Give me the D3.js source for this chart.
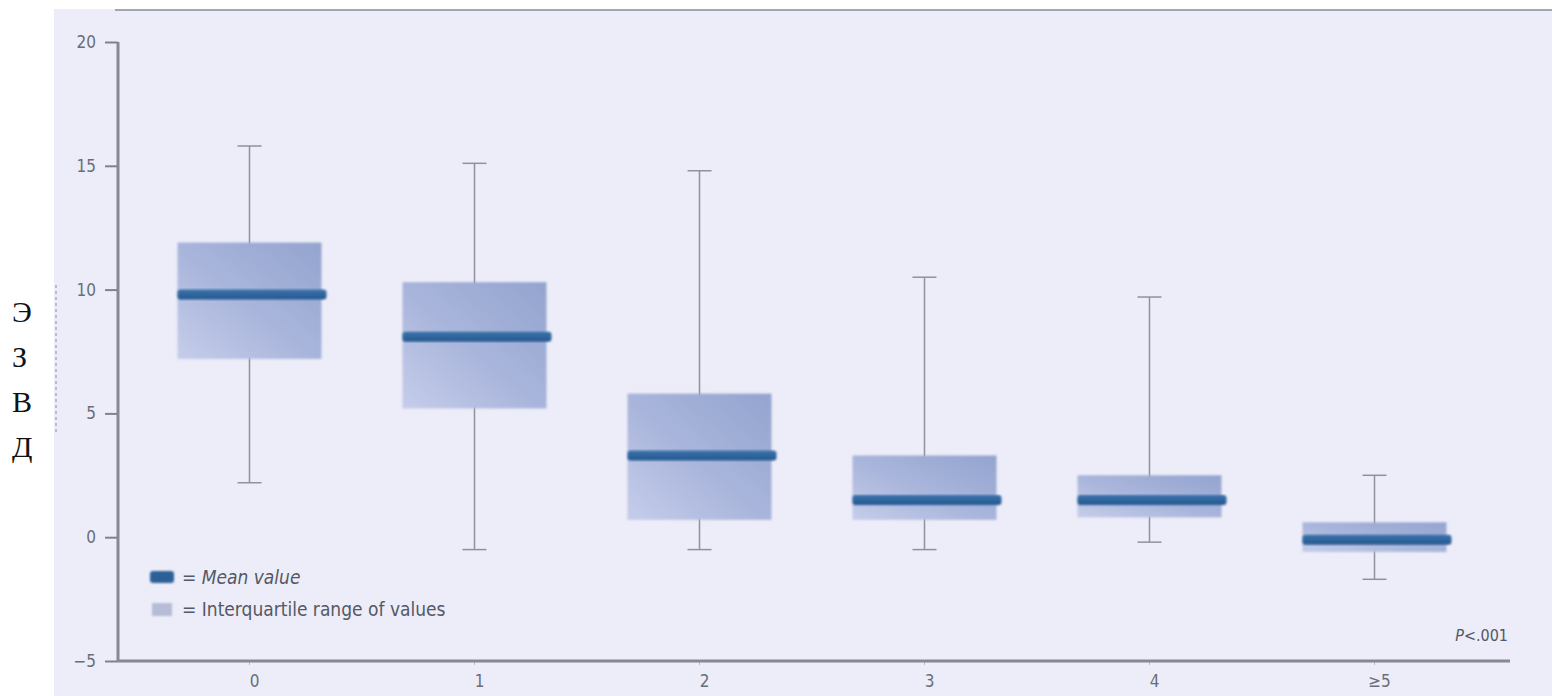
<!DOCTYPE html>
<html>
<head>
<meta charset="utf-8">
<script src="https://cdn.jsdelivr.net/npm/d3@7"></script>
<style>
  body { margin: 0; background: #fff; }
  .tick text { font-family: "Liberation Sans Narrow", "DejaVu Sans Condensed", sans-serif; fill: #6a6d78; }
</style>
</head>
<body>
<svg id="chart"></svg>
<script>

// categories and values
var categories = ["0", "1", "2", "3", "4", "\u22655"];
var whiskerTop = [15.8, 15.1, 14.8, 10.5, 9.7, 2.5];
var q3 = [11.9, 10.3, 5.8, 3.3, 2.5, 0.6];
var meanValue = [9.8, 8.1, 3.3, 1.5, 1.5, -0.1];
var q1 = [7.2, 5.2, 0.7, 0.7, 0.8, -0.6];
var whiskerBottom = [2.2, -0.5, -0.5, -0.5, -0.2, -1.7];
var yTicks = [-5, 0, 5, 10, 15, 20];
var sideLetters = ["\u042d", "\u0417", "\u0412", "\u0414"];

var W = 1552, H = 696;

var svg = d3.select("#chart")
    .attr("width", W)
    .attr("height", H);

// panel background
svg.append("rect")
    .attr("x", 54).attr("y", 9)
    .attr("width", W - 54).attr("height", H - 9)
    .attr("fill", "#ecedf8");

svg.append("line")
    .attr("x1", 115).attr("x2", W)
    .attr("y1", 10).attr("y2", 10)
    .attr("stroke", "#a3a5b0").attr("stroke-width", 2);

// gradients
var defs = svg.append("defs");
var g1 = defs.append("linearGradient").attr("id", "boxGrad")
    .attr("x1", "100%").attr("y1", "0%").attr("x2", "0%").attr("y2", "100%");
g1.append("stop").attr("offset", "0%").attr("stop-color", "#93a4cf");
g1.append("stop").attr("offset", "55%").attr("stop-color", "#aab6dc");
g1.append("stop").attr("offset", "100%").attr("stop-color", "#c6cdea");

var g2 = defs.append("linearGradient").attr("id", "meanGrad")
    .attr("x1", "0%").attr("y1", "0%").attr("x2", "0%").attr("y2", "100%");
g2.append("stop").attr("offset", "0%").attr("stop-color", "#3b74ab");
g2.append("stop").attr("offset", "100%").attr("stop-color", "#25578f");

var blur = defs.append("filter").attr("id", "soft")
    .attr("x", "-10%").attr("y", "-10%").attr("width", "120%").attr("height", "120%");
blur.append("feGaussianBlur").attr("stdDeviation", 1.2);

// scales
var x = d3.scaleBand()
    .domain(categories)
    .range([137, 1487])
    .paddingInner(0.36)
    .paddingOuter(0.18);

var y = d3.scaleLinear()
    .domain([-5, 20])
    .range([661, 42]);

var data = categories.map(function(c, i) {
  return { cat: c, hi: whiskerTop[i], q3: q3[i], mean: meanValue[i], q1: q1[i], lo: whiskerBottom[i] };
});

// y axis
var yAxis = svg.append("g")
    .attr("transform", "translate(118,0)")
    .call(d3.axisLeft(y).tickValues(yTicks).tickSize(13).tickPadding(9));
yAxis.select(".domain").remove();
yAxis.selectAll(".tick line").attr("stroke", "#7e8190").attr("stroke-width", 2);
yAxis.selectAll(".tick text").style("font-size", "17px");

svg.append("line")
    .attr("x1", 118).attr("x2", 118)
    .attr("y1", y(20)).attr("y2", y(-5) + 1)
    .attr("stroke", "#858896").attr("stroke-width", 3);

// x axis
var xAxis = svg.append("g")
    .attr("transform", "translate(0," + y(-5) + ")")
    .call(d3.axisBottom(x).tickSize(4).tickPadding(10));
xAxis.select(".domain").remove();
xAxis.selectAll(".tick line").attr("stroke", "#b9bcc8");
xAxis.selectAll(".tick text").style("font-size", "17px").attr("dx", 5);

svg.append("line")
    .attr("x1", 118).attr("x2", 1510)
    .attr("y1", y(-5)).attr("y2", y(-5))
    .attr("stroke", "#858896").attr("stroke-width", 3);

// whiskers
var boxes = svg.append("g").selectAll(".box")
    .data(data).enter().append("g")
    .attr("class", "box");

var cx = function(d) { return x(d.cat) + x.bandwidth() / 2; };

boxes.append("line")
    .attr("x1", cx).attr("x2", cx)
    .attr("y1", function(d) { return y(d.hi); })
    .attr("y2", function(d) { return y(d.lo); })
    .attr("stroke", "#8f90a0").attr("stroke-width", 1.5);

boxes.append("line")
    .attr("x1", function(d) { return cx(d) - 12; })
    .attr("x2", function(d) { return cx(d) + 12; })
    .attr("y1", function(d) { return y(d.hi); })
    .attr("y2", function(d) { return y(d.hi); })
    .attr("stroke", "#8f90a0").attr("stroke-width", 1.5);

boxes.append("line")
    .attr("x1", function(d) { return cx(d) - 12; })
    .attr("x2", function(d) { return cx(d) + 12; })
    .attr("y1", function(d) { return y(d.lo); })
    .attr("y2", function(d) { return y(d.lo); })
    .attr("stroke", "#8f90a0").attr("stroke-width", 1.5);

// interquartile boxes
boxes.append("rect")
    .attr("x", function(d) { return x(d.cat); })
    .attr("y", function(d) { return y(d.q3); })
    .attr("width", x.bandwidth())
    .attr("height", function(d) { return y(d.q1) - y(d.q3); })
    .attr("fill", "url(#boxGrad)")
    .attr("filter", "url(#soft)");

// mean bars
boxes.append("rect")
    .attr("x", function(d) { return x(d.cat); })
    .attr("y", function(d) { return y(d.mean) - 5; })
    .attr("width", x.bandwidth() + 5)
    .attr("height", 10)
    .attr("rx", 3)
    .attr("fill", "url(#meanGrad)")
    .attr("filter", "url(#soft)");

// legend
var legend = svg.append("g")
    .attr("transform", "translate(150,577)")
    .style("font-family", "\"Liberation Sans Narrow\", \"DejaVu Sans Condensed\", sans-serif")
    .style("font-size", "19px")
    .style("fill", "#555866");

legend.append("rect")
    .attr("x", 0).attr("y", -6).attr("width", 24).attr("height", 12)
    .attr("rx", 3).attr("fill", "#2d6198").attr("filter", "url(#soft)");
legend.append("text")
    .attr("x", 32).attr("y", 7)
    .attr("font-style", "italic")
    .text("= Mean value");

legend.append("rect")
    .attr("x", 2).attr("y", 26).attr("width", 20).attr("height", 13)
    .attr("fill", "#b6bcd6").attr("filter", "url(#soft)");
legend.append("text")
    .attr("x", 32).attr("y", 39)
    .text("= Interquartile range of values");

// p value
svg.append("text")
    .attr("x", 1508).attr("y", 641)
    .attr("text-anchor", "end")
    .style("font-family", "\"Liberation Sans Narrow\", \"DejaVu Sans Condensed\", sans-serif")
    .style("font-size", "16px")
    .style("fill", "#555866")
    .html("<tspan font-style='italic'>P</tspan>&lt;.001");

// faint leftover of the rotated y label
svg.append("line")
    .attr("x1", 56).attr("x2", 56)
    .attr("y1", 285).attr("y2", 435)
    .attr("stroke", "#9a9cab").attr("stroke-width", 2)
    .attr("stroke-dasharray", "3,3")
    .attr("opacity", 0.6);

// side letters
svg.append("g").selectAll("text")
    .data(sideLetters).enter().append("text")
    .attr("x", 12)
    .attr("y", function(d, i) { return 322 + i * 45; })
    .style("font-family", "\"Liberation Serif\", serif")
    .style("font-size", "30px")
    .style("fill", "#111")
    .text(function(d) { return d; });

</script>
</body>
</html>
